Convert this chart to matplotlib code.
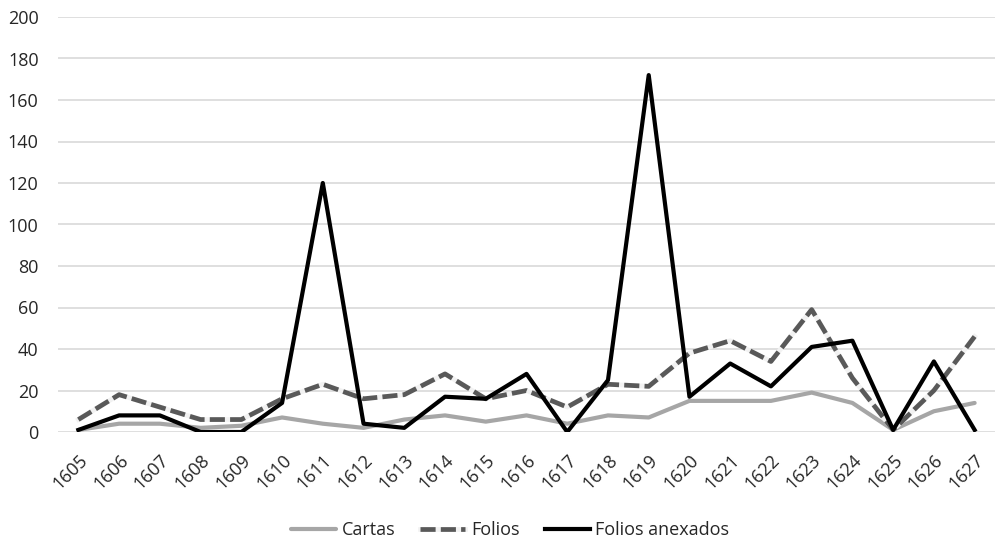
import matplotlib.pyplot as plt
import numpy as np
from matplotlib.legend_handler import HandlerTuple

# Years on the category axis
years = [str(y) for y in range(1605, 1628)]

# Series values
cartas = [1, 4, 4, 2, 3, 7, 4, 2, 6, 8, 5, 8, 4, 8, 7, 15, 15, 15, 19, 14, 1, 10, 14]
folios = [6, 18, 12, 6, 6, 16, 23, 16, 18, 28, 16, 20, 12, 23, 22, 38, 44, 34, 59, 26, 1, 20, 46]
folios_anexados = [1, 8, 8, 0, 0, 14, 120, 4, 2, 17, 16, 28, 0, 25, 172, 17, 33, 22, 41, 44, 1, 34, 1]

y_ticks = list(range(0, 201, 20))

plt.rcParams["font.family"] = ["Open Sans", "DejaVu Sans"]

fig = plt.figure(figsize=(9.98, 5.4), dpi=100)
ax = fig.add_axes([58 / 998, 1 - 432 / 540, 937 / 998, 415 / 540])

x = np.arange(len(years))

l_cartas, = ax.plot(x, cartas, color="#A6A6A6", linewidth=3, solid_capstyle="round", zorder=3)
# Folios: dark grey dashes with light gaps
l_folios_bg, = ax.plot(x, folios, color="#F2F2F2", linewidth=3.4, zorder=4)
l_folios, = ax.plot(x, folios, color="#595959", linewidth=3.4, linestyle=(0, (3.2, 1.1)),
                    dash_capstyle="butt", zorder=5)
l_anex, = ax.plot(x, folios_anexados, color="black", linewidth=3, zorder=6)

ax.set_xlim(-0.5, len(years) - 0.5)
ax.set_ylim(0, 200)
ax.set_yticks(y_ticks)
ax.set_xticks(x)
ax.set_xticklabels(years, rotation=45, ha="right", rotation_mode="anchor")
ax.tick_params(axis="both", length=0, labelsize=13, colors="#262626")
ax.tick_params(axis="x", pad=14)
ax.tick_params(axis="y", pad=14)
ax.grid(axis="y", color="#D9D9D9", linewidth=1.2)
ax.set_axisbelow(True)
for s in ax.spines.values():
    s.set_visible(False)

fig.legend([l_cartas, (l_folios_bg, l_folios), l_anex],
           ["Cartas", "Folios", "Folios anexados"],
           handler_map={tuple: HandlerTuple(ndivide=1, pad=0)},
           loc="center", bbox_to_anchor=(510 / 998, 1 - 530 / 540), ncol=3, frameon=False,
           fontsize=13, handlelength=2.5, handletextpad=0.3, columnspacing=1.4,
           labelcolor="#262626")

fig.savefig("out.png", dpi=100)
